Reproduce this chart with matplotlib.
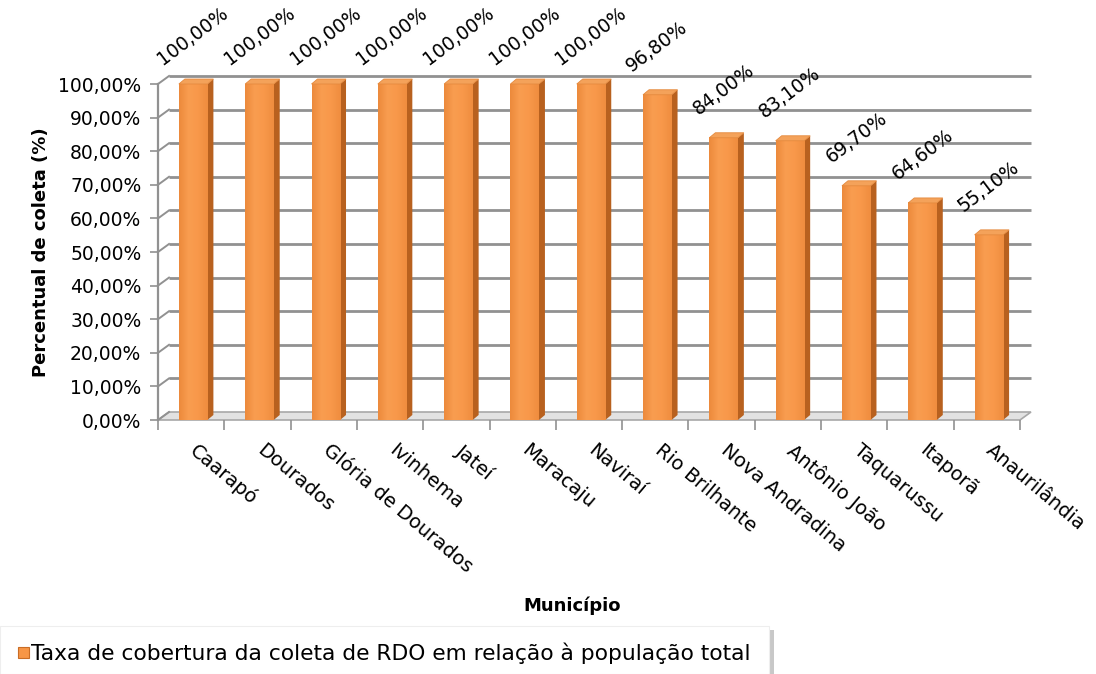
import matplotlib.pyplot as plt
import numpy as np
from matplotlib.patches import Polygon, Rectangle
from matplotlib.colors import LinearSegmentedColormap
from matplotlib.transforms import ScaledTranslation

plt.rcParams['font.family'] = ['DejaVu Sans']

municipios = ['Caarapó', 'Dourados', 'Glória de Dourados', 'Ivinhema', 'Jateí',
              'Maracaju', 'Naviraí', 'Rio Brilhante', 'Nova Andradina',
              'Antônio João', 'Taquarussu', 'Itaporã', 'Anaurilândia']
coleta = [100.0, 100.0, 100.0, 100.0, 100.0, 100.0, 100.0, 96.8, 84.0, 83.1, 69.7, 64.6, 55.1]
y_ticks = [0, 10, 20, 30, 40, 50, 60, 70, 80, 90, 100]
legenda = 'Taxa de cobertura da coleta de RDO em relação à população total'


def pct(v):
    return f'{v:.2f}'.replace('.', ',') + '%'


W, H = 1096, 674
fig = plt.figure(figsize=(W / 100, H / 100), dpi=100)
# plot area in pixels: x 158..1020, y 84..420
ax = fig.add_axes([158 / W, (H - 420) / H, 862 / W, 336 / H])
ax.set_xlim(-0.5, 12.5)
ax.set_ylim(0, 100)

px_x = 862 / 13      # pixels per category
px_y = 336 / 100     # pixels per percent
DX, DY = 11 / px_x, 8 / px_y        # depth of the back wall
BDX, BDY = 6 / px_x, 5 / px_y       # depth of each column
grid_c = '#919191'

# floor
floor = Polygon([(-0.5, 0), (12.5, 0), (12.5 + DX, DY), (-0.5 + DX, DY)],
                closed=True, facecolor='#e2e2e2', edgecolor='#a8a8a8', lw=1.2,
                clip_on=False, zorder=1)
ax.add_patch(floor)

# back wall gridlines and left wall diagonals
for t in y_ticks:
    if t > 0:
        ax.plot([-0.5 + DX, 12.5 + DX], [t + DY, t + DY], color=grid_c, lw=2.0,
                clip_on=False, zorder=1.5, solid_capstyle='butt')
    ax.plot([-0.5, -0.5 + DX], [t, t + DY], color=grid_c, lw=1.4,
            clip_on=False, zorder=1.5)

# columns
front_cmap = LinearSegmentedColormap.from_list(
    'front', ['#ec8a3c', '#f99d50', '#f8984a', '#ef8d3f'])
grad = np.linspace(0, 1, 64).reshape(1, -1)
x = np.arange(len(municipios))
bars = ax.bar(x + 0.03, coleta, width=0.43, color='#f79646', zorder=3,
              clip_on=False, linewidth=0)
for b, v in zip(bars, coleta):
    l, r = b.get_x(), b.get_x() + b.get_width()
    im = ax.imshow(grad, extent=[l, r, 0, v], aspect='auto', cmap=front_cmap,
                   zorder=3.1, clip_on=False)
    im.set_clip_path(b)
    side = Polygon([(r, 0), (r + BDX, BDY), (r + BDX, v + BDY), (r, v)],
                   closed=True, facecolor='#b8611f', edgecolor='none',
                   zorder=3, clip_on=False)
    top = Polygon([(l, v), (r, v), (r + BDX, v + BDY), (l + BDX, v + BDY)],
                  closed=True, facecolor='#f4a25a', edgecolor='#e58a3e', lw=0.6,
                  zorder=3.2, clip_on=False)
    ax.add_patch(side)
    ax.add_patch(top)
    ax.annotate(pct(v), (b.get_x() + b.get_width() / 2, v), xytext=(0, 48),
                textcoords='offset pixels', rotation=37, rotation_mode='anchor',
                ha='center', va='center', fontsize=13.5, color='black',
                annotation_clip=False)

ax.set_xlim(-0.5, 12.5)
ax.set_ylim(0, 100)

# axes and ticks
for s in ['top', 'right', 'bottom']:
    ax.spines[s].set_visible(False)
ax.spines['left'].set_color(grid_c)
ax.spines['left'].set_linewidth(1.6)
ax.spines['left'].set_zorder(2)

ax.set_yticks(y_ticks)
ax.set_yticklabels([pct(t) for t in y_ticks], fontsize=13.5)
ax.tick_params(axis='y', length=6, width=1.2, color=grid_c, pad=6)

ax.set_xticks(x)
ax.set_xticklabels(municipios, fontsize=14, rotation=-40, ha='left',
                   rotation_mode='anchor')
ax.set_xticks(np.arange(-0.5, 13, 1), minor=True)
ax.tick_params(axis='x', which='major', length=0, pad=15)
ax.tick_params(axis='x', which='minor', length=7, width=1.2, color=grid_c)
shift = ScaledTranslation(8 / 100, 0, fig.dpi_scale_trans)
for lbl in ax.get_xticklabels():
    lbl.set_va('top')
    lbl.set_transform(lbl.get_transform() + shift)

ax.set_ylabel('Percentual de coleta (%)', fontsize=13, fontweight='bold', labelpad=6)
fig.text(572 / W, 1 - 606 / H, 'Município', fontsize=13, fontweight='bold',
         ha='center', va='center')

# legend box with right-hand shadow
fig.patches.append(Rectangle((769 / W, 0), 5 / W, 44 / H, transform=fig.transFigure,
                             facecolor='#c8c8c8', edgecolor='none', zorder=0))
fig.patches.append(Rectangle((0, 0), 769 / W, 48 / H, transform=fig.transFigure,
                             facecolor='white', edgecolor='#eeeeee', lw=0.8, zorder=1))
fig.patches.append(Rectangle((18 / W, 1 - 658 / H), 11 / W, 11 / H,
                             transform=fig.transFigure, facecolor='#f79646',
                             edgecolor='#c96d25', lw=0.8, zorder=2))
fig.text(31 / W, 1 - 653 / H, legenda, fontsize=15.7, ha='left', va='center')

fig.savefig('out.png', dpi=100)
